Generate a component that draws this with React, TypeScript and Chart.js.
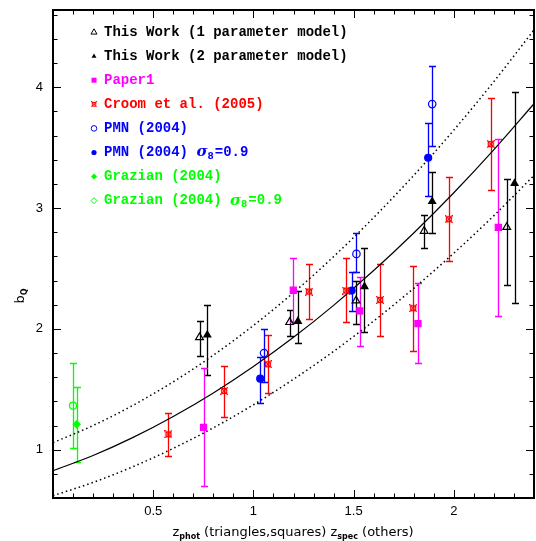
import React, { useEffect, useRef } from 'react';
import { Chart, registerables } from 'chart.js';

Chart.register(...registerables);

// ---------------- data ----------------
// This Work (1 parameter model) - open triangles
const oneParamZ = [0.731, 1.181, 1.512, 1.852, 2.264];
const oneParamB = [1.93, 2.055, 2.234, 2.81, 2.842];
const oneParamLo = [1.776, 1.94, 2.04, 2.668, 2.367];
const oneParamHi = [2.066, 2.157, 2.4, 2.94, 3.243];

// This Work (2 parameter model) - filled triangles
const twoParamZ = [0.77, 1.222, 1.554, 1.892, 2.303];
const twoParamB = [1.95, 2.063, 2.35, 3.055, 3.204];
const twoParamLo = [1.616, 1.88, 1.978, 2.79, 2.218];
const twoParamHi = [2.199, 2.31, 2.668, 3.3, 3.96];

// Paper1 - magenta squares
const paper1Z = [0.751, 1.199, 1.531, 1.821, 2.222];
const paper1B = [1.185, 2.32, 2.149, 2.044, 2.84];
const paper1Lo = [0.696, 2.055, 1.859, 1.715, 2.108];
const paper1Hi = [1.677, 2.59, 2.433, 2.378, 3.568];

// Croom et al. (2005) - red
const croomZ = [0.576, 0.854, 1.072, 1.277, 1.463, 1.632, 1.797, 1.975, 2.184];
const croomB = [1.127, 1.486, 1.707, 2.309, 2.317, 2.24, 2.171, 2.908, 3.53];
const croomLo = [0.948, 1.273, 1.47, 2.08, 2.055, 1.939, 1.815, 2.56, 3.15];
const croomHi = [1.304, 1.696, 1.947, 2.54, 2.59, 2.54, 2.519, 3.256, 3.91];

// PMN (2004) - open blue circles
const pmnZ = [1.053, 1.514, 1.892];
const pmnB = [1.8, 2.621, 3.861];
const pmnLo = [1.563, 2.475, 3.51];
const pmnHi = [2.0, 2.797, 4.18];

// PMN (2004) sigma8=0.9 - filled blue circles
const pmnS8Z = [1.034, 1.49, 1.872];
const pmnS8B = [1.588, 2.317, 3.417];
const pmnS8Lo = [1.384, 2.152, 3.1];
const pmnS8Hi = [1.765, 2.475, 3.705];

// Grazian (2004) - filled green
const grazZ = [0.118];
const grazB = [1.21];
const grazLo = [0.898];
const grazHi = [1.52];

// Grazian (2004) sigma8=0.9 - open green
const grazS8Z = [0.1];
const grazS8B = [1.364];
const grazS8Lo = [1.017];
const grazS8Hi = [1.715];

// model curves
const curveZ = [0, 0.2, 0.4, 0.6, 0.8, 1.0, 1.2, 1.4, 1.6, 1.8, 2.0, 2.2, 2.4];
const fitB = [0.826, 0.952, 1.102, 1.275, 1.47, 1.689, 1.93, 2.195, 2.483, 2.794, 3.127, 3.484, 3.864];
const upperB = [1.058, 1.2, 1.368, 1.562, 1.782, 2.028, 2.3, 2.598, 2.922, 3.271, 3.646, 4.048, 4.475];
const lowerB = [0.619, 0.729, 0.86, 1.011, 1.181, 1.372, 1.583, 1.814, 2.065, 2.336, 2.627, 2.938, 3.27];

const tickLabelsX = ['0.5', '1', '1.5', '2'];
const tickLabelsY = ['1', '2', '3', '4'];

const legendLabels = [
  'This Work (1 parameter model)',
  'This Work (2 parameter model)',
  'Paper1',
  'Croom et al. (2005)',
  'PMN (2004)',
  'PMN (2004)',
  'Grazian (2004)',
  'Grazian (2004)',
];
const legendSigma = [false, false, false, false, false, true, false, true];
const legendColors = ['#000000', '#000000', '#ff00ff', '#ff0000', '#0000ff', '#0000ff', '#00ff00', '#00ff00'];
const legendMarkers = ['triOpen', 'triFill', 'square', 'croom', 'circOpen', 'circFill', 'diamFill', 'diamOpen'];

// ---------------- helpers ----------------
const pts = (xs: number[], ys: number[]) => xs.map((x, i) => ({ x, y: ys[i] }));

function makeCroomMarker(size: number, color: string) {
  const c = document.createElement('canvas');
  c.width = size;
  c.height = size;
  const g = c.getContext('2d')!;
  g.strokeStyle = color;
  g.lineWidth = 1.2;
  const m = 1.5;
  g.strokeRect(m, m, size - 2 * m, size - 2 * m);
  g.beginPath();
  g.moveTo(0, 0);
  g.lineTo(size, size);
  g.moveTo(size, 0);
  g.lineTo(0, size);
  g.stroke();
  return c;
}

function drawMarker(ctx: CanvasRenderingContext2D, kind: string, x: number, y: number, color: string, croomImg: HTMLCanvasElement) {
  ctx.save();
  ctx.strokeStyle = color;
  ctx.fillStyle = color;
  ctx.lineWidth = 1;
  const tri = (r: number) => {
    ctx.beginPath();
    ctx.moveTo(x, y - r);
    ctx.lineTo(x + r * 0.95, y + r * 0.65);
    ctx.lineTo(x - r * 0.95, y + r * 0.65);
    ctx.closePath();
  };
  switch (kind) {
    case 'triOpen':
      tri(3.2);
      ctx.stroke();
      break;
    case 'triFill':
      tri(2.6);
      ctx.fill();
      break;
    case 'square':
      ctx.fillRect(x - 2.5, y - 2.5, 5, 5);
      break;
    case 'croom':
      ctx.drawImage(croomImg, x - 3, y - 3, 6, 6);
      break;
    case 'circOpen':
      ctx.beginPath();
      ctx.arc(x, y, 2.8, 0, Math.PI * 2);
      ctx.stroke();
      break;
    case 'circFill':
      ctx.beginPath();
      ctx.arc(x, y, 2.6, 0, Math.PI * 2);
      ctx.fill();
      break;
    case 'diamFill':
      ctx.beginPath();
      ctx.moveTo(x, y - 3);
      ctx.lineTo(x + 3, y);
      ctx.lineTo(x, y + 3);
      ctx.lineTo(x - 3, y);
      ctx.closePath();
      ctx.fill();
      break;
    case 'diamOpen':
      ctx.beginPath();
      ctx.moveTo(x, y - 3);
      ctx.lineTo(x + 3, y);
      ctx.lineTo(x, y + 3);
      ctx.lineTo(x - 3, y);
      ctx.closePath();
      ctx.stroke();
      break;
  }
  ctx.restore();
}

const LEGEND_FONT = 'bold 14px "Liberation Mono"';

const errorBarPlugin = {
  id: 'errorBars',
  beforeDatasetsDraw(chart: any) {
    const { ctx } = chart;
    const xs = chart.scales.x;
    const ys = chart.scales.y;
    chart.data.datasets.forEach((ds: any) => {
      if (!ds.errLo) return;
      ctx.save();
      ctx.strokeStyle = ds.errColor;
      ctx.lineWidth = 1.3;
      ds.data.forEach((p: any, i: number) => {
        const x = Math.round(xs.getPixelForValue(p.x)) + 0.5;
        const y1 = Math.round(ys.getPixelForValue(ds.errLo[i])) + 0.5;
        const y2 = Math.round(ys.getPixelForValue(ds.errHi[i])) + 0.5;
        ctx.beginPath();
        ctx.moveTo(x, y1);
        ctx.lineTo(x, y2);
        ctx.moveTo(x - 3.5, y1);
        ctx.lineTo(x + 3.5, y1);
        ctx.moveTo(x - 3.5, y2);
        ctx.lineTo(x + 3.5, y2);
        ctx.stroke();
      });
      ctx.restore();
    });
  },
};

const framePlugin = {
  id: 'frame',
  afterDraw(chart: any) {
    const { ctx, chartArea } = chart;
    const xs = chart.scales.x;
    const ys = chart.scales.y;
    const { left, right, top, bottom } = chartArea;
    ctx.save();
    ctx.strokeStyle = '#000';
    ctx.lineWidth = 1;
    ctx.beginPath();
    // x ticks every 0.1, major every 0.5
    for (let k = 1; k < 24; k++) {
      const x = Math.round(xs.getPixelForValue(k / 10)) + 0.5;
      const len = k % 5 === 0 ? 8 : 4.5;
      ctx.moveTo(x, bottom);
      ctx.lineTo(x, bottom - len);
      ctx.moveTo(x, top);
      ctx.lineTo(x, top + len);
    }
    // y ticks every 0.2, major every 1
    for (let k = 4; k <= 23; k++) {
      const v = k / 5;
      if (v < 0.6 || v > 4.64) continue;
      const y = Math.round(ys.getPixelForValue(v)) + 0.5;
      const len = k % 5 === 0 ? 8 : 4.5;
      ctx.moveTo(left, y);
      ctx.lineTo(left + len, y);
      ctx.moveTo(right, y);
      ctx.lineTo(right - len, y);
    }
    ctx.stroke();
    ctx.lineWidth = 2;
    ctx.strokeRect(left, top, right - left, bottom - top);
    ctx.restore();
  },
};

function makeTextPlugin(croomImg: HTMLCanvasElement) {
  return {
    id: 'texts',
    afterDraw(chart: any) {
      const { ctx } = chart;
      ctx.save();
      // legend
      const y0 = 32;
      const dy = 24.1;
      legendLabels.forEach((lab, i) => {
        const y = y0 + i * dy;
        const col = legendColors[i];
        drawMarker(ctx, legendMarkers[i], 94, y, col, croomImg);
        ctx.fillStyle = col;
        ctx.font = LEGEND_FONT;
        ctx.textBaseline = 'middle';
        ctx.textAlign = 'left';
        let x = 104;
        ctx.fillText(lab, x, y);
        if (legendSigma[i]) {
          x += ctx.measureText(lab + ' ').width;
          ctx.font = 'bold italic 15px "DejaVu Serif"';
          ctx.fillText('σ', x, y);
          x += ctx.measureText('σ').width;
          ctx.font = 'bold 9px "DejaVu Sans"';
          ctx.fillText('8', x, y + 4);
          x += ctx.measureText('8').width + 1;
          ctx.font = LEGEND_FONT;
          ctx.fillText('=0.9', x, y);
        }
      });

      // x title
      ctx.fillStyle = '#000';
      ctx.textBaseline = 'alphabetic';
      const parts: [string, boolean][] = [
        ['z', false],
        ['phot', true],
        [' (triangles,squares) z', false],
        ['spec', true],
        [' (others)', false],
      ];
      const mainF = '13px "DejaVu Sans"';
      const subF = 'bold 8px "DejaVu Sans"';
      let total = 0;
      parts.forEach(([t, s]) => {
        ctx.font = s ? subF : mainF;
        total += ctx.measureText(t).width;
      });
      let x = 293 - total / 2;
      parts.forEach(([t, s]) => {
        ctx.font = s ? subF : mainF;
        ctx.fillText(t, x, s ? 539 : 536);
        x += ctx.measureText(t).width;
      });

      // y title
      ctx.translate(24, 296);
      ctx.rotate(-Math.PI / 2);
      ctx.font = '13px "DejaVu Sans"';
      const wb = ctx.measureText('b').width;
      ctx.font = 'bold 8px "DejaVu Sans"';
      const wq = ctx.measureText('Q').width;
      const sx = -(wb + wq) / 2;
      ctx.font = '13px "DejaVu Sans"';
      ctx.fillText('b', sx, 0);
      ctx.font = 'bold 8px "DejaVu Sans"';
      ctx.fillText('Q', sx + wb, 3);
      ctx.restore();
    },
  };
}

const zeroPad = (s: any) => {
  s.paddingTop = 0;
  s.paddingBottom = 0;
  s.paddingLeft = 0;
  s.paddingRight = 0;
};

export default function App() {
  const ref = useRef<HTMLCanvasElement | null>(null);

  useEffect(() => {
    document.body.style.margin = '0';
    const canvas = ref.current;
    if (!canvas) return;
    const croomImg = makeCroomMarker(8, '#ff0000');
    const croomSmall = makeCroomMarker(8, '#ff0000');

    const ebar = (label: string, xs: number[], ys: number[], lo: number[], hi: number[], color: string, style: any, radius: number, filled: boolean) => ({
      type: 'scatter' as const,
      label,
      data: pts(xs, ys),
      errLo: lo,
      errHi: hi,
      errColor: color,
      pointStyle: style,
      pointRadius: radius,
      pointHoverRadius: radius,
      pointBorderColor: color,
      pointBackgroundColor: filled ? color : 'rgba(0,0,0,0)',
      pointBorderWidth: 1.2,
      showLine: false,
    });

    const curve = (label: string, ys: number[], dash: number[], width: number) => ({
      type: 'line' as const,
      label,
      data: pts(curveZ, ys),
      borderColor: '#000',
      borderWidth: width,
      borderDash: dash,
      pointRadius: 0,
      cubicInterpolationMode: 'monotone' as const,
      fill: false,
    });

    const chart = new Chart(canvas, {
      type: 'scatter',
      data: {
        datasets: [
          ebar('This Work (1 parameter model)', oneParamZ, oneParamB, oneParamLo, oneParamHi, '#000000', 'triangle', 4.5, false),
          ebar('This Work (2 parameter model)', twoParamZ, twoParamB, twoParamLo, twoParamHi, '#000000', 'triangle', 4, true),
          ebar('Paper1', paper1Z, paper1B, paper1Lo, paper1Hi, '#ff00ff', 'rect', 4.3, true),
          ebar('Croom et al. (2005)', croomZ, croomB, croomLo, croomHi, '#ff0000', croomImg, 4, false),
          ebar('PMN (2004)', pmnZ, pmnB, pmnLo, pmnHi, '#0000ff', 'circle', 3.7, false),
          ebar('PMN (2004) s8=0.9', pmnS8Z, pmnS8B, pmnS8Lo, pmnS8Hi, '#0000ff', 'circle', 3.5, true),
          ebar('Grazian (2004)', grazZ, grazB, grazLo, grazHi, '#00ff00', 'rectRot', 3.5, true),
          ebar('Grazian (2004) s8=0.9', grazS8Z, grazS8B, grazS8Lo, grazS8Hi, '#00ff00', 'circle', 3.5, false),
          curve('fit', fitB, [], 1.2),
          curve('upper', upperB, [1.5, 3], 1.5),
          curve('lower', lowerB, [1.5, 3], 1.5),
        ] as any,
      },
      options: {
        responsive: false,
        maintainAspectRatio: false,
        animation: false,
        devicePixelRatio: 1,
        layout: { autoPadding: false, padding: { top: 10, right: 2, left: 0, bottom: 0 } },
        plugins: {
          legend: { display: false },
          tooltip: { enabled: false },
        },
        events: [],
        scales: {
          x: {
            type: 'linear',
            min: 0,
            max: 2.4,
            grid: { display: false, drawTicks: false },
            border: { display: false },
            afterFit: (s: any) => {
              s.height = 43;
              zeroPad(s);
            },
            ticks: {
              stepSize: 0.1,
              autoSkip: false,
              maxRotation: 0,
              padding: 6,
              color: '#000',
              font: { family: '"Liberation Sans"', size: 13 },
              callback: (v: any) => {
                const s = String(Math.round(Number(v) * 10) / 10);
                return tickLabelsX.includes(s) ? s : '';
              },
            },
          },
          y: {
            type: 'linear',
            min: 0.6,
            max: 4.64,
            grid: { display: false, drawTicks: false },
            border: { display: false },
            afterFit: (s: any) => {
              s.width = 53;
              zeroPad(s);
            },
            ticks: {
              stepSize: 0.2,
              autoSkip: false,
              padding: 10,
              color: '#000',
              font: { family: '"Liberation Sans"', size: 13 },
              callback: (v: any) => {
                const n = Number(v);
                if (Math.abs(n - Math.round(n)) > 1e-6) return '';
                const s = String(Math.round(n));
                return tickLabelsY.includes(s) ? s : '';
              },
            },
          },
        },
      },
      plugins: [errorBarPlugin, framePlugin, makeTextPlugin(croomSmall)],
    });
    return () => chart.destroy();
  }, []);

  return (
    <div style={{ width: 536, height: 541, background: '#fff' }}>
      <canvas ref={ref} width={536} height={541} style={{ display: 'block' }} />
    </div>
  );
}
